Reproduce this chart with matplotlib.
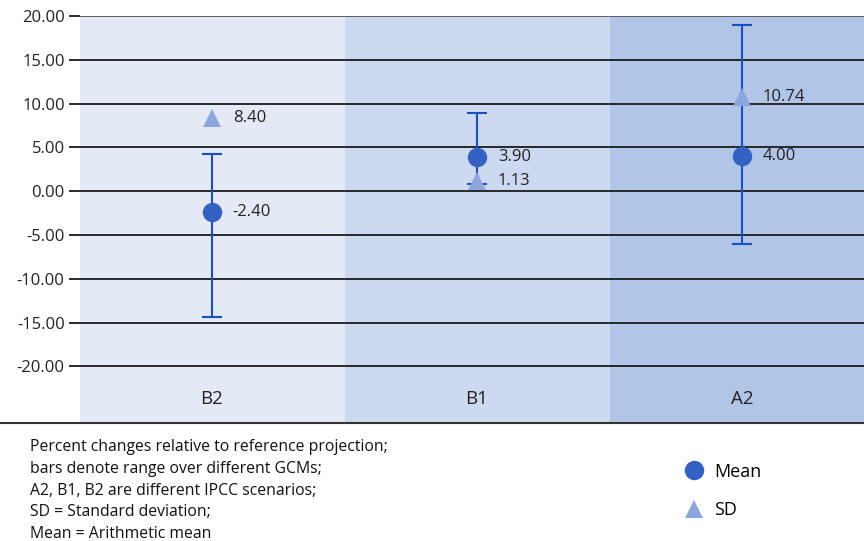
import matplotlib
matplotlib.use("Agg")
import matplotlib.pyplot as plt
from matplotlib.lines import Line2D

# scenario data (percent changes)
scenarios = ["B2", "B1", "A2"]
means = [-2.40, 3.90, 4.00]
sds = [8.40, 1.13, 10.74]
range_lo = [-14.4, 0.8, -6.0]
range_hi = [4.3, 8.9, 19.0]
band_colors = ["#e3e9f5", "#cdd9f0", "#b1c5e7"]
yticks = [20, 15, 10, 5, 0, -5, -10, -15, -20]

notes = ["Percent changes relative to reference projection;",
         "bars denote range over different GCMs;",
         "A2, B1, B2 are different IPCC scenarios;",
         "SD = Standard deviation;",
         "Mean = Arithmetic mean"]

plt.rcParams['font.family'] = ['Open Sans', 'DejaVu Sans']

W, H = 864, 541
fig = plt.figure(figsize=(W / 100, H / 100), dpi=100)
ax = fig.add_axes([80 / W, 1 - 423 / H, 1 - 80 / W, (423 - 16) / H])

ymin, ymax = -26.45, 20.0
ax.set_xlim(-0.498, 2.46)
ax.set_ylim(ymin, ymax)

for i, c in enumerate(band_colors):
    ax.axvspan(i - 0.5, i + 0.5, color=c, lw=0, zorder=0)

for y in yticks:
    ax.axhline(y, color="#1a1a1a" if y != 20 else "#555555", lw=1.3, zorder=1)

x = list(range(len(scenarios)))
lo_err = [m - l for m, l in zip(means, range_lo)]
hi_err = [h - m for m, h in zip(means, range_hi)]
ax.errorbar(x, means, yerr=[lo_err, hi_err], fmt="none", ecolor="#1c4fc0",
            elinewidth=1.5, capsize=7, capthick=1.5, zorder=3)
ax.plot(x, sds, "^", color="#8aa6dc", markersize=13, mew=0, zorder=4)
ax.plot(x, means, "o", color="#3462c4", markersize=14, mew=0, zorder=5)

for i in x:
    ax.annotate(f"{means[i]:.2f}", (i, means[i]), xytext=(15, 0),
                textcoords="offset points", va="center", ha="left",
                fontsize=12, color="#222222", zorder=6)
    ax.annotate(f"{sds[i]:.2f}", (i, sds[i]), xytext=(15, 0),
                textcoords="offset points", va="center", ha="left",
                fontsize=12, color="#222222", zorder=6)
    ax.text(i, -23.7, scenarios[i], ha="center", va="center",
            fontsize=13.5, color="#222222")

ax.set_xticks([])
ax.set_yticks(yticks)
ax.set_yticklabels([f"{v:.2f}" for v in yticks], fontsize=12, color="#222222")
ax.tick_params(axis="y", length=8, width=1.3, color="#1a1a1a", pad=3)
for s in ax.spines.values():
    s.set_visible(False)

# bottom rule across the whole figure
fig.add_artist(Line2D([0, 1], [1 - 423 / H, 1 - 423 / H], color="#333333",
                      lw=1.5, transform=fig.transFigure))

for k, line in enumerate(notes):
    fig.text(30 / W, 1 - (447 + k * 21.8) / H, line, fontsize=11.3,
             color="#111111", va="center", ha="left")

handles = [Line2D([], [], marker="o", ls="", color="#3462c4", markersize=14, mew=0),
           Line2D([], [], marker="^", ls="", color="#8aa6dc", markersize=13, mew=0)]
fig.legend(handles, ["Mean", "SD"], loc="center left",
           bbox_to_anchor=(660 / W, 1 - 491 / H), frameon=False,
           handletextpad=0.1, labelspacing=1.15,
           prop={'size': 13})

fig.savefig("out.png", dpi=100)
